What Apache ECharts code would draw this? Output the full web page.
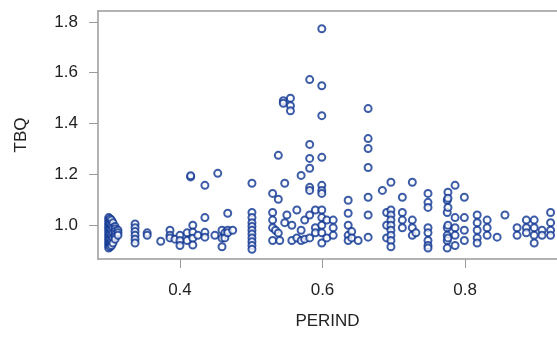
<!DOCTYPE html>
<html>
<head>
<meta charset="utf-8">
<script src="https://cdn.jsdelivr.net/npm/echarts@6/dist/echarts.min.js"></script>
<style>
  html, body { margin: 0; padding: 0; background: #fff; }
  #chart { width: 557px; height: 337px; }
</style>
</head>
<body>
<div id="chart"></div>
<script>
// PERIND value of each column of points, and the TBQ values in that column
const perind = [
  0.300, 0.302, 0.304, 0.306, 0.309, 0.313, 0.337, 0.354, 0.373, 0.386,
  0.393, 0.400, 0.410, 0.415, 0.418, 0.425, 0.435, 0.449, 0.453, 0.459,
  0.463, 0.467, 0.474, 0.501, 0.530, 0.534, 0.538, 0.540, 0.545, 0.547,
  0.550, 0.555, 0.557, 0.564, 0.570, 0.575, 0.582, 0.590, 0.599, 0.606,
  0.615, 0.636, 0.641, 0.650, 0.664, 0.684, 0.690, 0.696, 0.712, 0.726,
  0.731, 0.748, 0.775, 0.776, 0.786, 0.799, 0.817, 0.831, 0.845, 0.856,
  0.873, 0.886, 0.897, 0.908, 0.920
];
const tbq = [
  [1.03, 1.02, 1.01, 1.00, 0.99, 0.98, 0.97, 0.96, 0.95, 0.94, 0.93, 0.92, 0.91],
  [1.025, 1.005, 0.985, 0.965, 0.945, 0.925, 0.915],
  [1.02, 1.00, 0.98, 0.96, 0.94, 0.92],
  [1.01, 0.99, 0.97, 0.95, 0.93],
  [0.995, 0.985, 0.975, 0.965, 0.955, 0.945],
  [0.98, 0.97, 0.96],
  [1.005, 0.99, 0.975, 0.96, 0.945, 0.93],
  [0.97, 0.96],
  [0.937],
  [0.98, 0.96, 0.95],
  [0.945],
  [0.96, 0.94, 0.92],
  [0.97, 0.94],
  [1.19, 1.195],
  [1.00, 0.972, 0.949, 0.922],
  [0.96],
  [1.157, 1.03, 0.972, 0.953],
  [0.96],
  [1.204],
  [0.98, 0.949, 0.915],
  [0.97, 0.95],
  [1.047, 0.98, 0.97],
  [0.98],
  [1.165, 1.05, 1.03, 1.01, 0.995, 0.98, 0.965, 0.95, 0.935, 0.92, 0.905],
  [1.125, 1.05, 1.02, 0.99, 0.94],
  [0.98],
  [1.275, 1.102, 0.969],
  [0.94],
  [1.49, 1.48],
  [1.165, 1.01],
  [1.04],
  [1.50, 1.47, 1.45],
  [1.00, 0.94],
  [1.06, 0.95],
  [1.196, 0.98, 0.94],
  [1.02, 0.945],
  [1.573, 1.318, 1.263, 1.224, 1.149, 1.137, 1.04, 0.95],
  [1.06, 0.99, 0.97],
  [1.773, 1.549, 1.431, 1.267, 1.157, 1.137, 1.125, 1.06, 1.03, 1.00, 0.97, 0.93],
  [1.02, 0.95],
  [1.02, 0.99, 0.96],
  [1.098, 1.047, 1.00, 0.96, 0.94],
  [0.975, 0.95],
  [0.94],
  [1.459, 1.341, 1.302, 1.227, 1.11, 1.04, 0.953],
  [1.137],
  [1.05, 1.00, 0.95],
  [1.169, 1.06, 1.04, 1.02, 1.00, 0.98, 0.96, 0.94, 0.915],
  [1.11, 1.05, 1.02, 0.99],
  [1.169, 1.02, 0.99, 0.96],
  [0.97],
  [1.125, 1.09, 1.07, 0.99, 0.97, 0.94, 0.92, 0.91],
  [1.098, 1.05, 0.99, 0.96, 0.94, 0.91],
  [1.13, 1.106, 1.07, 1.00, 0.95],
  [1.157, 1.03, 0.99, 0.96, 0.92],
  [1.11, 1.03, 0.98, 0.94],
  [1.04, 1.01, 0.98, 0.95, 0.93],
  [1.02, 0.99, 0.96],
  [0.953],
  [1.04],
  [0.99, 0.96],
  [1.02, 0.99, 0.97],
  [1.02, 0.99, 0.96, 0.93],
  [0.98, 0.96],
  [1.05, 1.01, 0.98, 0.96]
];
const xTicks = [0.4, 0.6, 0.8];
const yTicks = [1.0, 1.2, 1.4, 1.6, 1.8];

var points = [];
perind.forEach(function (x, i) {
  tbq[i].forEach(function (y) { points.push([x, y]); });
});

var axisGray = '#9a9a9a';
var labelStyle = { color: '#222', fontSize: 17, fontFamily: 'Liberation Sans, Arial, sans-serif' };

var myChart = echarts.init(document.getElementById('chart'));
var option = {
  animation: false,
  grid: { left: 98, top: 11, right: 0, bottom: 78 },
  xAxis: [
    {
      type: 'value',
      min: 0.285,
      max: 0.929,
      name: 'PERIND',
      nameLocation: 'middle',
      nameGap: 54,
      nameTextStyle: labelStyle,
      axisLine: { show: true, lineStyle: { color: axisGray, width: 1.5 } },
      axisTick: { show: true, length: 9, customValues: xTicks, lineStyle: { color: axisGray } },
      axisLabel: Object.assign({ margin: 23, customValues: xTicks, formatter: function (v) { return v.toFixed(1); } }, labelStyle),
      splitLine: { show: false }
    },
    {
      type: 'value',
      position: 'top',
      min: 0.285,
      max: 0.929,
      axisLine: { show: true, lineStyle: { color: axisGray, width: 1.5 } },
      axisTick: { show: false },
      axisLabel: { show: false },
      splitLine: { show: false }
    }
  ],
  yAxis: {
    type: 'value',
    min: 0.867,
    max: 1.843,
    name: 'TBQ',
    nameLocation: 'middle',
    nameGap: 68,
    nameTextStyle: labelStyle,
    axisLine: { show: true, lineStyle: { color: axisGray, width: 1.5 } },
    axisTick: { show: true, length: 9, customValues: yTicks, lineStyle: { color: axisGray } },
    axisLabel: Object.assign({ margin: 20, customValues: yTicks, formatter: function (v) { return v.toFixed(1); } }, labelStyle),
    splitLine: { show: false }
  },
  series: [
    {
      type: 'scatter',
      data: points,
      symbol: 'circle',
      symbolSize: 7,
      itemStyle: { color: '#fff', borderColor: '#0d3391', borderWidth: 2 }
    }
  ]
};
myChart.setOption(option);
</script>
</body>
</html>
